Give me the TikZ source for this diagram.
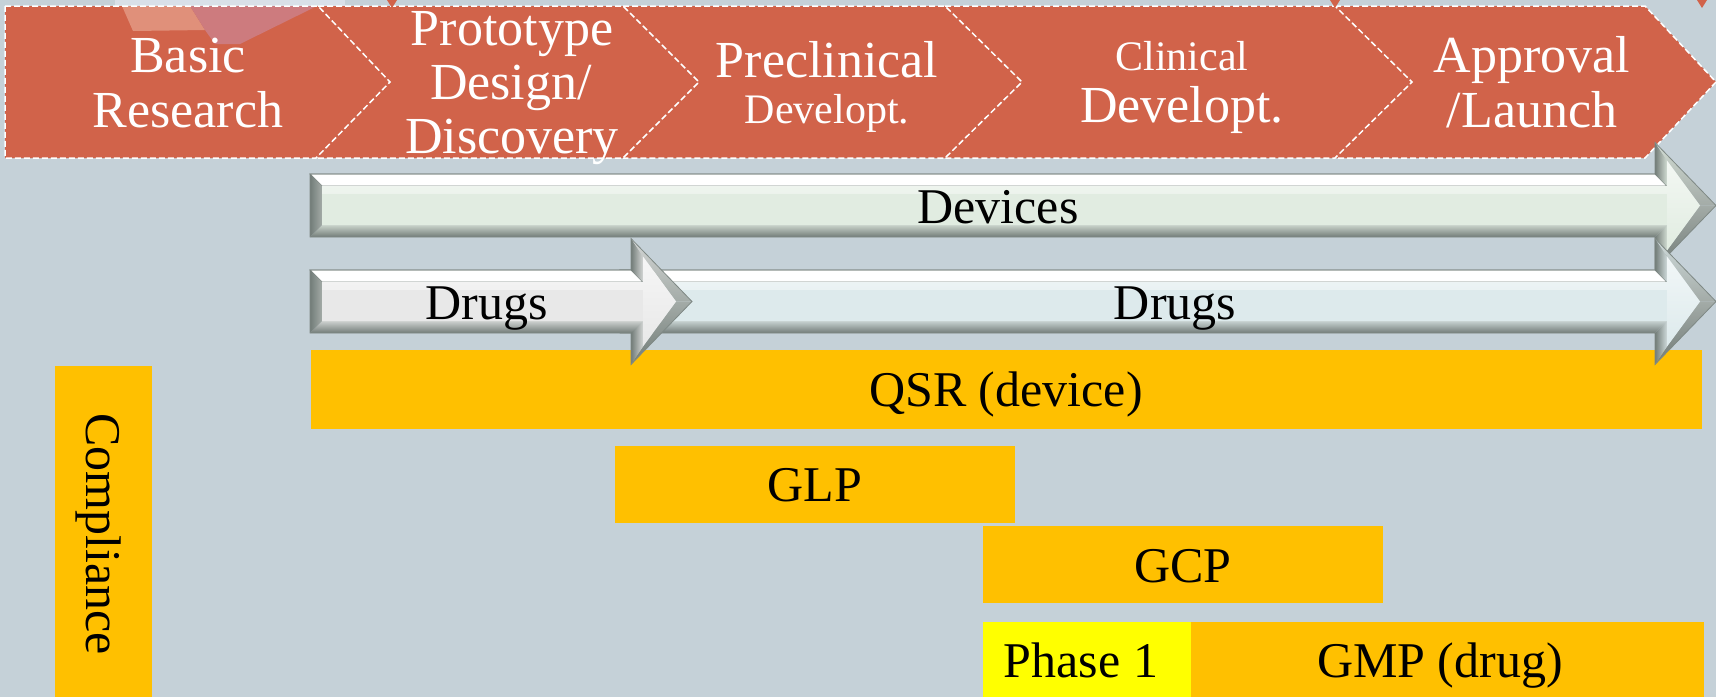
\documentclass[tikz,border=0pt]{standalone}
\usepackage{fontspec}
\setmainfont{Liberation Serif}
\definecolor{bg}{HTML}{C5D1D8}
\definecolor{chev}{HTML}{D1634A}
\definecolor{gold}{HTML}{FFC000}
\definecolor{ph}{HTML}{FFFF00}
\definecolor{devfill}{HTML}{E1ECE1}
\definecolor{drugA}{HTML}{E8E8E8}
\definecolor{drugB}{HTML}{DDEAEC}
\definecolor{bevline}{HTML}{7F8985}
\definecolor{bevmid}{HTML}{A3ABA7}
\definecolor{bevdark}{HTML}{727C78}
\definecolor{salmon}{HTML}{E0907A}
\definecolor{mauve}{HTML}{CD7B7E}
\definecolor{paleblue}{HTML}{D9E0E8}
\tikzset{
  chevfill/.style={fill=chev},
  chevline/.style={draw=white, dash pattern=on 6pt off 3pt, line width=1.5pt, line join=miter},
  bar/.style={fill=gold},
  white52/.style={text=white, inner sep=0pt, anchor=base, font=\fontsize{52}{55}\selectfont},
  white42/.style={text=white, inner sep=0pt, anchor=base, font=\fontsize{42}{46}\selectfont},
  black50/.style={text=black, inner sep=0pt, anchor=base, font=\fontsize{50}{55}\selectfont},
}
% #1 x0, #2 xh (head base), #3 yc, #4 base colour, #5 head-light colour
\newcommand\bevarrow[5]{%
  \fill[white, draw=bevline, line width=0.8pt] (#1,#3-31.5) -- (#2,#3-31.5) -- (#2+12,#3-19.5) -- (#1+12,#3-19.5) -- cycle;
  \shade[left color=bevdark, right color=#5] (#2,#3-31.5) -- (#2,#3-63) -- (#2+12,#3-45) -- (#2+12,#3-19.5) -- cycle;
  \shade[top color=#5, bottom color=bevmid] (#2,#3-63) -- (#2+61,#3) -- (#2+45,#3) -- (#2+12,#3-45) -- cycle;
  \shade[top color=bevmid, bottom color=bevdark] (#2+61,#3) -- (#2,#3+63) -- (#2+12,#3+45) -- (#2+45,#3) -- cycle;
  \shade[left color=bevdark, right color=#5] (#2,#3+63) -- (#2,#3+31.5) -- (#2+12,#3+19.5) -- (#2+12,#3+45) -- cycle;
  \shade[top color=#4!60!bevmid, bottom color=bevdark] (#2+12,#3+19.5) -- (#1+12,#3+19.5) -- (#1,#3+31.5) -- (#2,#3+31.5) -- cycle;
  \shade[left color=bevdark, right color=bevmid] (#1,#3+31.5) -- (#1,#3-31.5) -- (#1+12,#3-19.5) -- (#1+12,#3+19.5) -- cycle;
  \shade[top color=white!60!#4, bottom color=#4] (#1+12,#3-19.5) -- (#2+12,#3-19.5) -- (#2+12,#3-45) -- (#2+45,#3) -- (#2+12,#3+45) -- (#2+12,#3+19.5) -- (#1+12,#3+19.5) -- cycle;
  \fill[#4] (#1+12,#3-12) rectangle (#2+12,#3+19.5);
  \draw[bevline, line width=0.8pt] (#1,#3-31.5) -- (#2,#3-31.5) -- (#2,#3-63) -- (#2+61,#3) -- (#2,#3+63) -- (#2,#3+31.5) -- (#1,#3+31.5) -- cycle;
}
\begin{document}
\begin{tikzpicture}[x=1pt, y=-1pt]
\useasboundingbox (0,0) rectangle (1716,697);
\fill[bg] (0,0) rectangle (1716,697);
\fill[paleblue] (115,0) rectangle (345,6);
% chevron band
\path[chevfill] (5,6) -- (318,6) -- (390,82) -- (316,158) -- (5,158) -- cycle;
\path[chevfill] (318,6) -- (623,6) -- (699,82) -- (623,158) -- (316,158) -- (390,82) -- cycle;
\path[chevfill] (623,6) -- (945,6) -- (1022,82) -- (945,158) -- (623,158) -- (699,82) -- cycle;
\path[chevfill] (945,6) -- (1335,6) -- (1412,82) -- (1335,158) -- (945,158) -- (1022,82) -- cycle;
\path[chevfill] (1335,6) -- (1645,6) -- (1716,82) -- (1645,158) -- (1335,158) -- (1412,82) -- cycle;
\fill[salmon] (122,6) -- (190,6) -- (205,30) -- (133,31) -- cycle;
\fill[mauve] (190,6) -- (317,6) -- (240,44) -- (215,44) -- (205,30) -- cycle;
\draw[chevline] (5,6) -- (318,6) -- (390,82) -- (316,158) -- (5,158) -- cycle;
\draw[chevline] (318,6) -- (623,6) -- (699,82) -- (623,158) -- (316,158);
\draw[chevline] (623,6) -- (945,6) -- (1022,82) -- (945,158) -- (623,158);
\draw[chevline] (945,6) -- (1335,6) -- (1412,82) -- (1335,158) -- (945,158);
\draw[chevline] (1335,6) -- (1645,6) -- (1716,82) -- (1645,158) -- (1335,158);
\fill[chev] (387,0) -- (397,0) -- (392,8) -- cycle;
\fill[chev] (1330,0) -- (1340,0) -- (1335,8) -- cycle;
\fill[chev] (1697,0) -- (1707,0) -- (1702,8) -- cycle;
% chevron texts
\node[white52] (basic) at (188,72) {Basic};
\node[white52] (research) at (188,127) {Research};
\node[white52] (proto) at (512,45) {Prototype};
\node[white52] (design) at (511,99) {Design/};
\node[white52] (discovery) at (512,153) {Discovery};
\node[white52] (precl) at (827,77) {Preclinical};
\node[white42] (devA) at (827,123) {Developt.};
\node[white42] (clin) at (1182,70) {Clinical};
\node[white52] (devB) at (1182,122) {Developt.};
\node[white52] (approval) at (1532,72) {Approval};
\node[white52] (launch) at (1532,127) {/Launch};
% compliance bars
\fill[bar] (311,350) rectangle (1702,429);
\fill[bar] (615,446) rectangle (1015,523);
\fill[bar] (983,526) rectangle (1383,603);
\fill[ph] (983,622) rectangle (1191,697);
\fill[bar] (1191,622) rectangle (1704,697);
\fill[bar] (55,366) rectangle (152,697);
% arrows
\bevarrow{310}{1655}{205.5}{devfill}{devfill!75!bevmid}
\bevarrow{620}{1655}{301.5}{drugB}{drugB!75!bevmid}
\bevarrow{310}{631}{301.5}{drugA}{drugA!70!bevmid}
% texts
\node[black50] (devices) at (998,223) {Devices};
\node[black50] (drugs1) at (487,319) {Drugs};
\node[black50] (drugs2) at (1175,319) {Drugs};
\node[black50] (qsr) at (1006,406) {QSR (device)};
\node[black50] (glp) at (815,501) {GLP};
\node[black50] (gcp) at (1183,582) {GCP};
\node[black50] (phase) at (1081,677) {Phase 1};
\node[black50] (gmp) at (1440,677) {GMP (drug)};
\node[black50, rotate=-90] (compliance) at (86,534) {Compliance};
\end{tikzpicture}
\end{document}
